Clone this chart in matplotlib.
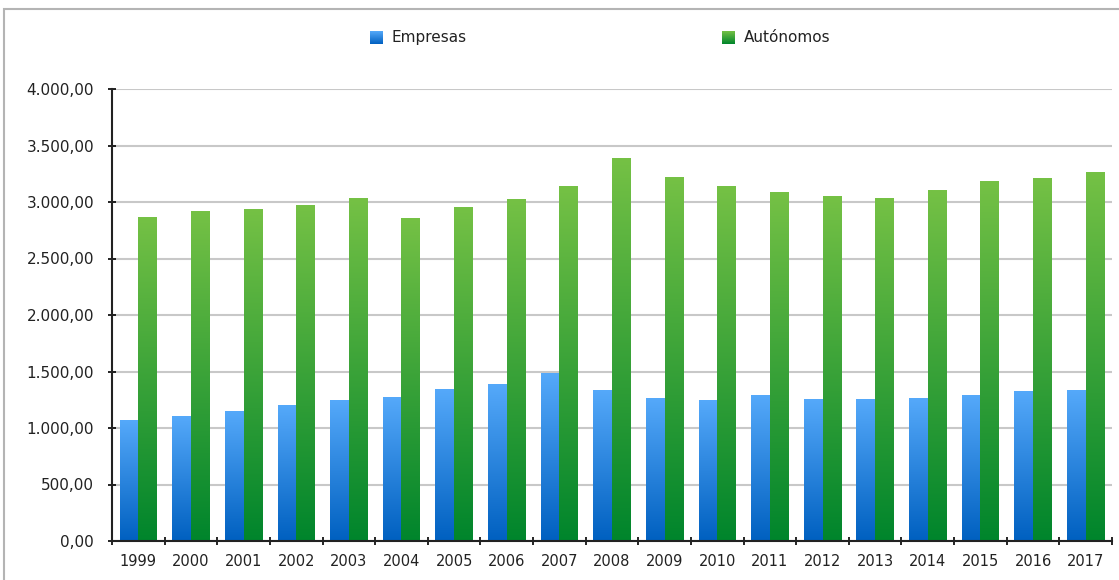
import numpy as np
import matplotlib
matplotlib.use("Agg")
import matplotlib.pyplot as plt
from matplotlib.colors import LinearSegmentedColormap
from matplotlib.patches import Rectangle
from matplotlib.ticker import MultipleLocator, FuncFormatter

years = [str(y) for y in range(1999, 2018)]
empresas = [1062, 1106, 1150, 1195, 1239, 1274, 1345, 1389, 1478, 1336,
            1265, 1239, 1292, 1248, 1248, 1265, 1292, 1319, 1336]
autonomos = [2867, 2912, 2938, 2965, 3035, 2850, 2947, 3018, 3133, 3389,
             3221, 3133, 3088, 3053, 3035, 3106, 3177, 3204, 3265]

plt.rcParams['font.family'] = ['DejaVu Sans']

fig = plt.figure(figsize=(11.19, 5.8), dpi=100)
ax = fig.add_axes([112 / 1119, 39 / 580, 1000 / 1119, 452 / 580])

blue_cm = LinearSegmentedColormap.from_list('b', ['#0060c0', '#55a9fa'])
green_cm = LinearSegmentedColormap.from_list('g', ['#00852c', '#75c145'])

x = np.arange(len(years))
w = 0.355
grad = np.linspace(0, 1, 256).reshape(-1, 1)


def grad_bars(xs, vals, cmap):
    bars = ax.bar(xs, vals, w, color='none', edgecolor='none', zorder=3)
    for b in bars:
        x0 = b.get_x()
        ax.imshow(grad, cmap=cmap, origin='lower', aspect='auto',
                  extent=[x0, x0 + b.get_width(), 0, b.get_height()],
                  zorder=3, interpolation='bilinear')
    return bars


grad_bars(x - w / 2, empresas, blue_cm)
grad_bars(x + w / 2, autonomos, green_cm)

ax.set_xlim(-0.5, len(years) - 0.5)
ax.set_ylim(0, 4000)
ax.yaxis.set_major_locator(MultipleLocator(500))
ax.yaxis.set_major_formatter(FuncFormatter(
    lambda v, p: '{:,.2f}'.format(v).replace(',', 'X').replace('.', ',').replace('X', '.')))
ax.set_xticks(x)
ax.set_xticklabels(years)
ax.set_xticks(np.arange(-0.5, len(years)), minor=True)
ax.tick_params(axis='x', which='major', length=0, pad=9, labelsize=10.5, colors='#222222')
ax.tick_params(axis='x', which='minor', length=6, direction='inout', width=1.2)
ax.tick_params(axis='y', length=6, direction='inout', width=1.2, labelsize=11,
               pad=10, labelcolor='#222222')

ax.grid(axis='y', color='#c8c8c8', linewidth=1.5, zorder=0)
ax.set_axisbelow(True)
for s in ['top', 'right']:
    ax.spines[s].set_visible(False)
for s in ['left', 'bottom']:
    ax.spines[s].set_color('#222222')
    ax.spines[s].set_linewidth(1.5)
    ax.spines[s].set_zorder(4)

# legend
leg_items = [('Empresas', blue_cm, 370 / 1119), ('Autónomos', green_cm, 722 / 1119)]
for label, cm, lx in leg_items:
    lax = fig.add_axes([lx, (580 - 44) / 580, 13 / 1119, 13 / 580])
    lax.imshow(grad, cmap=cm, origin='lower', aspect='auto', interpolation='bilinear')
    lax.axis('off')
    fig.text(lx + 22 / 1119, (580 - 37.5) / 580, label, fontsize=11,
             va='center', ha='left', color='#222222')

# outer frame
fig.add_artist(Rectangle((4 / 1119, -0.05), 1.1, (571 / 580) + 0.05,
                         transform=fig.transFigure, fill=False,
                         edgecolor='#b4b4b4', linewidth=1.5))

fig.savefig('out.png', dpi=100)
